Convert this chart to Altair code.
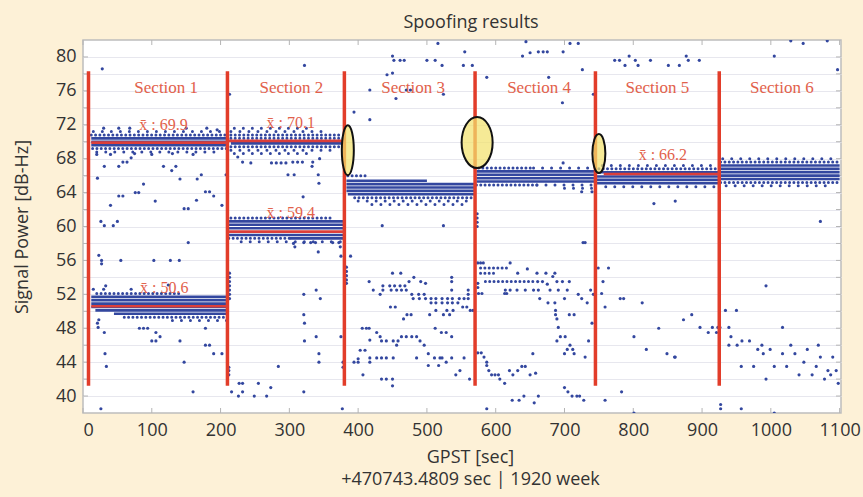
import altair as alt
import pandas as pd

# ---------------- data ----------------
BLUE = "#33479f"
RED_V = "#e23d2a"
RED_M = "#dc3f3a"
TXT_RED = "#e2614b"

x_ticks = list(range(0, 1101, 100))
y_grid = list(range(40, 81, 2))

# section boundaries (red vertical lines)
sec_x = [8, 210, 380, 570, 745, 925]
sec_y0 = 41.2
sec_y1 = 78.3

# section titles
sec_lab_x = [121, 303, 480, 663, 835, 1016]
sec_lab_y = [76.3, 76.3, 76.3, 76.3, 76.3, 76.3]
sec_lab = ["Section 1", "Section 2", "Section 3", "Section 4", "Section 5", "Section 6"]

# mean lines
mean_x0 = [12, 12, 212, 212, 757]
mean_x1 = [210, 210, 380, 380, 925]
mean_y = [69.9, 50.6, 70.1, 59.4, 66.2]
mean_lab_x = [117, 118, 302, 302, 843]
mean_lab_y = [72.0, 52.8, 72.2, 61.6, 68.4]
mean_lab = ["x\u0304 : 69.9", "x\u0304 : 50.6", "x\u0304 : 70.1", "x\u0304 : 59.4", "x\u0304 : 66.2"]

# highlighted transients (ellipses): centre, pixel width, pixel height
ell_x = [385, 573, 750]
ell_y = [69.0, 69.9, 68.6]
ell_w = [12, 31, 13]
ell_h = [50, 51, 39]

# dense bands of C/N0 samples: (x start, x end, level, density)
bands = [
    # section 1 upper
    (12, 210, 70.4, "solid"), (12, 210, 70.0, "solid"), (12, 210, 69.6, "solid"),
    (12, 208, 70.8, "dots"), (14, 210, 69.2, "dots"),
    (15, 205, 71.2, "sparse"), (20, 200, 68.8, "sparse"),
    # section 1 lower
    (20, 140, 52.1, "dots"),
    (12, 210, 51.7, "solid"), (12, 210, 51.3, "solid"), (12, 210, 50.9, "solid"),
    (12, 210, 50.5, "solid"), (18, 210, 50.1, "solid"), (45, 210, 49.7, "solid"),
    (60, 210, 49.3, "dots"), (130, 210, 48.9, "sparse"),
    # section 2 upper
    (220, 335, 71.6, "sparse"), (215, 350, 71.2, "sparse"), (215, 375, 70.8, "dots"),
    (215, 378, 70.4, "dots"), (215, 378, 69.8, "solid"), (215, 378, 69.4, "dots"),
    (215, 360, 69.0, "sparse"), (220, 330, 68.6, "sparse"),
    # section 2 lower
    (215, 360, 61.0, "dots"),
    (212, 380, 60.6, "solid"), (212, 380, 60.2, "solid"), (212, 380, 59.8, "solid"),
    (212, 380, 59.0, "solid"), (300, 380, 58.6, "solid"), (212, 300, 58.6, "dots"),
    (230, 378, 58.2, "sparse"),
    # section 3
    (385, 415, 66.0, "dots"),
    (383, 500, 65.4, "solid"), (383, 570, 65.0, "solid"), (383, 570, 64.6, "solid"),
    (383, 570, 64.2, "solid"), (385, 570, 63.8, "solid"),
    (395, 570, 63.4, "dots"), (400, 560, 63.0, "sparse"), (420, 555, 62.6, "sparse"),
    # section 4
    (575, 655, 66.9, "dots"), (655, 745, 66.9, "sparse"),
    (572, 745, 66.5, "solid"), (572, 745, 66.1, "solid"), (572, 745, 65.7, "solid"),
    (572, 745, 65.3, "solid"),
    (572, 660, 64.9, "dots"), (660, 745, 64.9, "sparse"), (700, 745, 64.5, "sparse"),
    (578, 616, 55.1, "dots"), (578, 603, 54.5, "dots"), (585, 660, 53.5, "dots"),
    # section 5
    (755, 925, 67.2, "sparse"), (750, 925, 66.8, "dots"),
    (747, 925, 66.4, "solid"), (747, 925, 65.9, "solid"), (747, 925, 65.5, "solid"),
    (747, 925, 65.1, "solid"), (760, 925, 64.7, "sparse"),
    # section 6
    (930, 1100, 68.0, "sparse"), (927, 1100, 67.6, "dots"),
    (927, 1100, 67.2, "solid"), (927, 1100, 66.8, "solid"), (927, 1100, 66.4, "solid"),
    (927, 1100, 66.0, "solid"), (927, 1100, 65.6, "solid"),
    (927, 1100, 65.2, "dots"), (935, 1090, 64.8, "sparse"),
]

# isolated samples
pts_s1 = [
    (28, 78.6), (21, 65.7), (31, 67.1), (52, 67.1), (58, 67.6), (64, 67.6), (70, 68.1),
    (40, 62.5), (52, 63.6), (58, 63.6), (76, 64.0), (81, 64.0), (88, 65.0), (105, 63.0),
    (117, 67.1), (129, 66.6), (135, 67.1), (141, 65.6), (147, 62.1), (153, 62.1),
    (166, 65.6), (172, 66.1), (165, 63.1), (178, 64.1), (184, 64.1), (190, 63.6),
    (202, 62.5), (208, 66.1), (26, 60.6), (31, 60.1), (44, 60.1), (50, 60.6), (153, 58.1),
    (23, 56.6), (27, 56.0), (27, 55.6), (55, 56.0), (103, 56.0), (127, 56.0), (140, 56.0),
    (21, 48.6), (22, 48.1), (23, 49.0), (31, 47.5), (32, 45.0), (34, 43.5), (82, 48.0),
    (88, 48.0), (94, 48.0), (100, 46.5), (106, 46.5), (106, 47.5), (112, 47.0),
    (141, 46.5), (147, 44.0), (160, 40.5), (178, 48.0), (178, 46.0), (184, 46.0),
    (190, 45.0), (202, 45.0), (26, 38.5), (15, 52.6), (30, 52.6), (33, 53.0), (70, 52.6),
    (124, 53.1), (30, 71.6), (52, 71.6), (68, 71.6), (150, 71.6), (180, 71.6), (195, 71.4),
    (20, 68.5), (40, 68.5), (75, 68.6), (100, 68.5), (130, 68.6), (160, 68.5),
]
pts_s2 = [
    (213, 75.6), (213, 54.5), (213, 54.0), (213, 53.5), (213, 53.0), (213, 52.5),
    (213, 52.0), (213, 51.5), (212, 43.4), (212, 43.0), (212, 42.5),
    (227, 41.5), (232, 41.5), (216, 40.5), (226, 40.0), (232, 40.5), (255, 41.5),
    (249, 40.0), (267, 40.0), (273, 41.0), (284, 43.5),
    (322, 79.0), (305, 67.6), (312, 67.6), (319, 67.6), (334, 67.6), (344, 68.0),
    (298, 66.1), (307, 66.1), (342, 66.1), (320, 63.5), (333, 67.1), (244, 67.5),
    (274, 67.5), (281, 67.5), (288, 67.5), (295, 67.5), (225, 68.2), (232, 67.6),
    (343, 65.1), (306, 58.0), (308, 57.6), (321, 58.1), (331, 58.1), (338, 58.1),
    (342, 57.0), (363, 58.1), (372, 58.1), (374, 57.6), (375, 56.5), (389, 56.5),
    (321, 52.0), (339, 52.5), (345, 51.5), (321, 49.6), (322, 48.6), (322, 46.5),
    (339, 47.0), (343, 45.0), (343, 44.0), (375, 47.0), (378, 44.0), (378, 43.4),
    (321, 40.5), (377, 38.5), (383, 55.2), (383, 54.7), (383, 54.2), (383, 53.7),
    (383, 53.3),
]
pts_s3 = [
    (450, 80.1), (452, 79.6), (461, 79.6), (467, 79.6), (450, 78.1), (442, 77.9),
    (417, 76.1), (455, 75.1), (470, 76.1), (476, 76.1), (524, 75.6), (394, 73.5),
    (417, 72.6), (516, 81.6), (500, 79.6), (512, 79.6), (522, 79.0), (555, 80.6),
    (553, 79.0), (566, 79.0),
    (450, 54.5), (462, 54.5), (416, 53.5), (422, 52.5), (432, 52.0), (436, 53.0),
    (436, 52.5), (446, 53.0), (453, 53.0), (461, 53.0), (468, 53.0), (474, 53.5),
    (481, 54.0), (491, 53.5), (498, 53.3), (448, 52.5), (456, 52.5), (463, 52.5),
    (470, 52.5), (478, 52.0), (488, 52.0), (496, 52.0), (480, 51.5), (489, 51.5),
    (498, 51.5), (506, 51.5), (513, 51.5), (522, 51.5), (530, 51.5), (537, 51.5),
    (547, 51.5), (554, 51.5), (560, 51.5), (506, 51.0), (513, 51.0), (522, 51.0),
    (530, 51.0), (537, 51.0), (545, 51.0), (513, 50.1), (529, 50.1), (538, 50.1),
    (552, 50.5), (558, 50.5), (563, 50.1), (567, 50.1), (536, 54.0), (536, 53.5),
    (536, 52.5), (560, 52.5), (560, 52.0), (447, 50.5), (454, 50.5), (466, 49.1),
    (471, 49.6), (477, 49.6), (504, 49.6), (524, 49.6), (533, 49.6),
    (406, 48.0), (412, 48.0), (416, 48.0), (427, 47.5), (432, 47.0), (434, 46.5),
    (417, 46.6), (441, 46.5), (451, 46.5), (458, 46.5), (456, 46.0), (463, 47.0),
    (470, 47.0), (478, 47.0), (485, 47.0), (490, 46.5), (496, 46.0), (512, 48.0),
    (521, 47.5), (528, 47.5), (536, 47.0), (403, 45.4), (410, 45.4), (400, 44.4),
    (400, 44.0), (417, 44.5), (417, 44.0), (427, 44.5), (434, 44.5), (441, 44.5),
    (451, 44.5), (485, 44.5), (502, 45.0), (511, 44.5), (519, 44.5), (522, 44.5),
    (528, 44.0), (536, 44.5), (554, 44.5), (394, 44.0), (502, 43.6), (517, 43.6),
    (542, 42.5), (548, 43.0), (562, 42.0), (407, 42.5), (434, 42.0), (441, 42.0),
    (450, 42.0), (450, 41.2), (435, 60.1), (524, 60.1),
    (573, 61.5), (573, 61.0), (573, 60.5), (573, 60.0),
]
pts_s4 = [
    (587, 77.6), (677, 77.6), (639, 80.1), (650, 80.5), (662, 80.6), (669, 80.6),
    (675, 80.6), (698, 80.6), (708, 81.6), (720, 81.6), (726, 78.5), (697, 74.6),
    (742, 75.6), (698, 67.5), (644, 81.8), (725, 64.1), (740, 64.1), (727, 58.1),
    (730, 58.1),
    (574, 55.7), (578, 55.7), (582, 55.7), (621, 55.7), (632, 54.5), (646, 55.0),
    (660, 54.5), (673, 54.5), (686, 54.5), (683, 54.1), (661, 53.5), (668, 53.5),
    (689, 53.5), (697, 53.5), (707, 53.5), (675, 53.2), (614, 52.5), (621, 52.5),
    (631, 52.5), (643, 52.5), (655, 52.5), (662, 52.5), (679, 52.5), (691, 52.5),
    (704, 52.5), (613, 52.1), (616, 52.1), (575, 52.1), (580, 52.1), (664, 51.5),
    (676, 51.0), (686, 51.0), (700, 51.5), (720, 52.0), (725, 51.5), (733, 51.0),
    (738, 52.5), (742, 52.0), (574, 53.3), (574, 52.8),
    (687, 50.1), (687, 49.6), (689, 49.1), (691, 48.1), (689, 46.5), (694, 47.0),
    (701, 47.0), (707, 49.6), (714, 49.6), (740, 48.6), (735, 46.5), (700, 45.0),
    (704, 45.5), (708, 46.0), (712, 45.5), (714, 45.0), (730, 44.6), (654, 45.0),
    (574, 45.1), (579, 45.1), (583, 44.6), (587, 44.0), (587, 43.6), (590, 43.0),
    (594, 42.5), (599, 42.5), (604, 42.5), (606, 42.0), (613, 41.5), (620, 43.0),
    (625, 42.5), (632, 43.0), (638, 43.5), (643, 43.5), (650, 42.5), (658, 42.7),
    (624, 39.5), (634, 39.5), (641, 40.0), (656, 39.2), (662, 40.0), (587, 38.5),
    (700, 41.0), (705, 40.5), (711, 40.0), (718, 40.0), (722, 40.0), (728, 39.5),
]
pts_s5 = [
    (749, 55.1), (764, 55.1), (756, 53.5), (754, 52.1), (759, 50.5), (781, 51.5),
    (786, 51.5), (813, 51.0), (837, 48.0), (801, 47.0), (819, 45.5), (849, 45.0),
    (860, 44.6), (783, 40.5), (759, 39.5), (801, 38.0), (830, 62.7), (861, 63.0),
    (773, 79.6), (780, 79.6), (788, 79.0), (794, 80.1), (803, 79.6), (807, 79.0),
    (825, 79.6), (851, 79.0), (867, 79.0), (877, 80.1), (880, 79.6), (896, 79.6),
    (873, 49.0), (885, 49.6), (897, 48.1), (909, 47.5), (915, 48.1), (921, 47.5),
    (861, 44.6),
]
pts_s6 = [
    (923, 48.1), (926, 48.1), (934, 50.1), (950, 50.1), (939, 48.1), (942, 47.0),
    (939, 46.0), (951, 46.0), (958, 46.5), (969, 46.5), (957, 43.5), (975, 43.5),
    (981, 45.5), (987, 46.0), (989, 45.0), (993, 42.0), (999, 45.5), (993, 53.0),
    (1005, 43.5), (1017, 48.1), (1017, 45.0), (1023, 43.5), (1029, 46.0), (1035, 45.0),
    (1041, 42.5), (1048, 44.0), (1053, 45.5), (1060, 42.5), (1066, 43.5), (1069, 46.0),
    (1072, 44.6), (1078, 42.0), (1083, 43.0), (1087, 42.5), (1090, 44.6), (1095, 43.0),
    (1098, 41.5), (1072, 60.6), (927, 39.0), (927, 38.5), (957, 38.5), (1005, 38.0),
    (1005, 80.1), (1029, 81.9), (1047, 81.6), (1082, 81.9), (1097, 78.5),
]

# ---------------- chart ----------------
W, H = 758, 373
X_DOM = [0, 1102]
Y_DOM = [38, 82]
xs = alt.Scale(domain=X_DOM, nice=False, zero=False)
ys = alt.Scale(domain=Y_DOM, nice=False, zero=False)
FONT = "Open Sans"

X_AXIS = alt.Axis(
    values=x_ticks, format="d", grid=False, ticks=False, domain=False,
    labelFont=FONT, labelFontSize=18, labelColor="#333333", labelPadding=8,
    title=["GPST [sec]", "+470743.4809 sec | 1920 week"],
    titleFont=FONT, titleFontSize=18, titleFontWeight="normal", titleColor="#333333",
    titleLineHeight=22, titlePadding=9, titleX=387)
Y_AXIS = alt.Axis(
    values=y_grid, labelExpr="datum.value % 4 == 0 ? datum.label : ''",
    grid=True, gridColor="#e7e7ee", gridWidth=1, ticks=False, domain=False,
    labelFont=FONT, labelFontSize=18, labelColor="#333333", labelPadding=7,
    title="Signal Power [dB-Hz]", titleFont=FONT, titleFontSize=18,
    titleFontWeight="normal", titleColor="#333333", titlePadding=24)


def X(field):
    return alt.X(field, scale=xs, axis=X_AXIS)


def Y(field):
    return alt.Y(field, scale=ys, axis=Y_AXIS)


band_df = pd.DataFrame(bands, columns=["x0", "x1", "y", "kind"])
all_pts = pts_s1 + pts_s2 + pts_s3 + pts_s4 + pts_s5 + pts_s6
pts_df = pd.DataFrame(all_pts, columns=["x", "y"])

points = alt.Chart(pts_df).mark_circle(size=10, color=BLUE, opacity=1, clip=True).encode(
    x=X("x:Q"), y=Y("y:Q"))


def band_layer(kind):
    base = alt.Chart(band_df).transform_filter(alt.datum.kind == kind)
    if kind == "solid":
        m = base.mark_rule(color=BLUE, strokeWidth=2.6, clip=True)
    elif kind == "dots":
        m = base.mark_rule(color=BLUE, strokeWidth=3, strokeCap="round",
                           strokeDash=[0.01, 4.3], clip=True)
    else:
        m = base.mark_rule(color=BLUE, strokeWidth=3, strokeCap="round",
                           strokeDash=[0.01, 9], clip=True)
    return m.encode(x=X("x0:Q"), x2="x1:Q", y=Y("y:Q"))


bands_layers = [band_layer(k) for k in ["solid", "dots", "sparse"]]

sec_df = pd.DataFrame({"x": sec_x, "y0": [sec_y0] * len(sec_x), "y1": [sec_y1] * len(sec_x)})
vlines = alt.Chart(sec_df).mark_rule(color=RED_V, strokeWidth=3.5).encode(
    x=X("x:Q"), y=Y("y0:Q"), y2="y1:Q")

mean_df = pd.DataFrame({"x0": mean_x0, "x1": mean_x1, "y": mean_y})
mlines = alt.Chart(mean_df).mark_rule(color=RED_M, strokeWidth=2.6).encode(
    x=X("x0:Q"), x2="x1:Q", y=Y("y:Q"))

ell_layers = []
for ex, ey, ew, eh in zip(ell_x, ell_y, ell_w, ell_h):
    a = round(ew / eh, 3)
    path = f"M {-a} 0 A {a} 1 0 1 0 {a} 0 A {a} 1 0 1 0 {-a} 0 Z"
    edf = pd.DataFrame({"x": [ex], "y": [ey]})
    ell_layers.append(
        alt.Chart(edf).mark_point(shape=path, size=eh * eh, filled=True,
                                  fill="#f2e26e", fillOpacity=0.72,
                                  stroke="#111111", strokeWidth=2, strokeOpacity=1).encode(
            x=X("x:Q"), y=Y("y:Q"))
    )

slab_df = pd.DataFrame({"x": sec_lab_x, "y": sec_lab_y, "t": sec_lab})
slabels = alt.Chart(slab_df).mark_text(font="Liberation Serif", fontSize=17,
                                       color=TXT_RED, align="center", baseline="middle").encode(
    x=X("x:Q"), y=Y("y:Q"), text="t:N")

mlab_df = pd.DataFrame({"x": mean_lab_x, "y": mean_lab_y, "t": mean_lab})
mlabels = alt.Chart(mlab_df).mark_text(font="Liberation Serif", fontSize=16,
                                       color=TXT_RED, align="center", baseline="middle").encode(
    x=X("x:Q"), y=Y("y:Q"), text="t:N")

# inner tick marks on the frame
ty_df = pd.DataFrame({"v": y_grid})
tx_df = pd.DataFrame({"v": x_ticks})
tick_style = dict(color="#b5b5b5", strokeWidth=1)
ticks_left = alt.Chart(ty_df).mark_rule(**tick_style).encode(
    y=Y("v:Q"), x=alt.value(0), x2=alt.value(5))
ticks_right = alt.Chart(ty_df).mark_rule(**tick_style).encode(
    y=Y("v:Q"), x=alt.value(W - 5), x2=alt.value(W))
ticks_top = alt.Chart(tx_df).mark_rule(**tick_style).encode(
    x=X("v:Q"), y=alt.value(0), y2=alt.value(5))
ticks_bot = alt.Chart(tx_df).mark_rule(**tick_style).encode(
    x=X("v:Q"), y=alt.value(H - 5), y2=alt.value(H))

chart = alt.layer(
    ticks_left, ticks_right, ticks_top, ticks_bot,
    *bands_layers, points, vlines, mlines, *ell_layers, slabels, mlabels,
).properties(
    width=W, height=H,
    background="#fdf1d7",
    padding={"left": 83, "top": 40, "right": 22, "bottom": 84},
    autosize=alt.AutoSizeParams(type="none"),
    title=alt.TitleParams("Spoofing results", font=FONT, fontSize=18, fontWeight="normal",
                          color="#333333", anchor="middle", frame="group",
                          baseline="alphabetic", offset=12, dx=9, dy=18),
).configure_view(
    fill="#ffffff", stroke="#bdbdbd", strokeWidth=1.5,
)

chart.save("out.html", embed_options={"renderer": "svg", "actions": False})
